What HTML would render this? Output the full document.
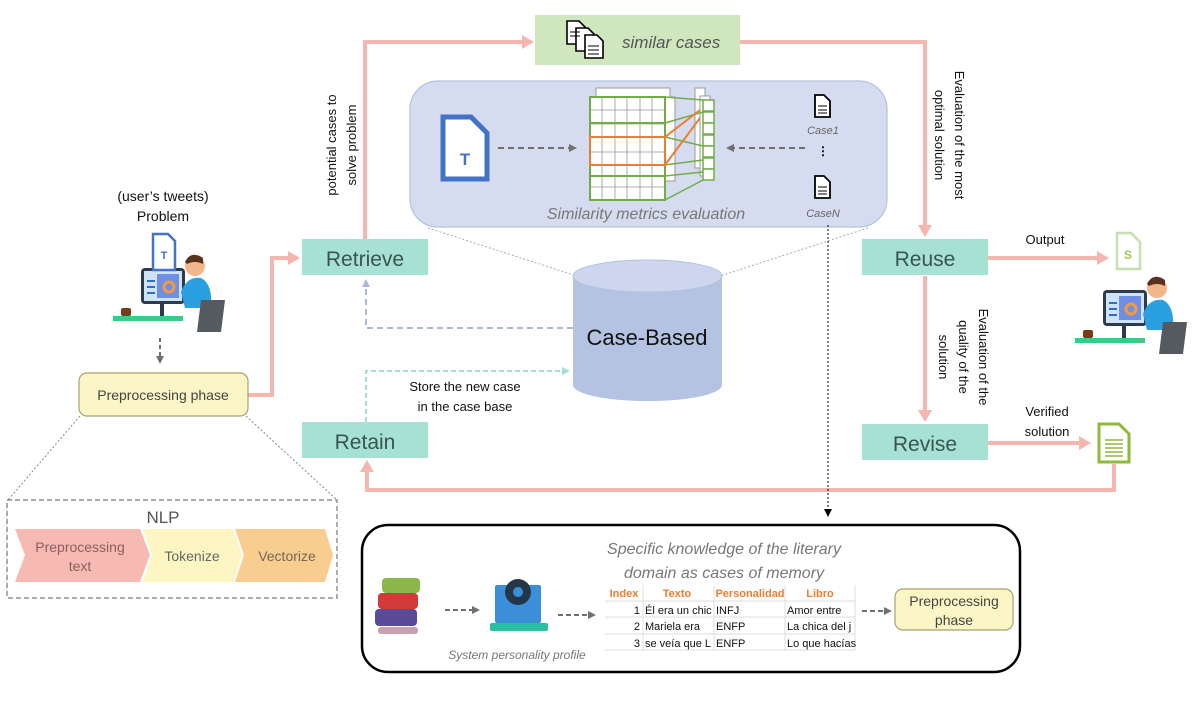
<!DOCTYPE html>
<html><head><meta charset="utf-8"><style>
html,body{margin:0;padding:0;background:#fff;}
svg{display:block;font-family:"Liberation Sans",sans-serif;}
</style></head><body>
<svg width="1196" height="702" viewBox="0 0 1196 702" xmlns="http://www.w3.org/2000/svg">
<defs>
<marker id="pk" markerWidth="12" markerHeight="14" refX="9" refY="7" orient="auto" markerUnits="userSpaceOnUse"><path d="M0,0 L12,7 L0,14 z" fill="#f4b6ae"/></marker>
<marker id="gy" markerWidth="8" markerHeight="8" refX="6" refY="4" orient="auto" markerUnits="userSpaceOnUse"><path d="M0,0 L8,4 L0,8 z" fill="#707070"/></marker>
<marker id="bl" markerWidth="8" markerHeight="8" refX="6" refY="4" orient="auto" markerUnits="userSpaceOnUse"><path d="M0,0 L8,4 L0,8 z" fill="#aab8dc"/></marker>
<marker id="tl" markerWidth="8" markerHeight="8" refX="6" refY="4" orient="auto" markerUnits="userSpaceOnUse"><path d="M0,0 L8,4 L0,8 z" fill="#9fe0d0"/></marker>
<marker id="bk" markerWidth="8" markerHeight="8" refX="6" refY="4" orient="auto" markerUnits="userSpaceOnUse"><path d="M0,0 L8,4 L0,8 z" fill="#000"/></marker>
<g id="user">
<rect x="0" y="68" width="70" height="5" fill="#3ec98a"/>
<rect x="28" y="20" width="44" height="36" rx="4" fill="#2d3b4e"/>
<rect x="31" y="23" width="38" height="30" fill="#cfe3f5"/>
<rect x="44" y="26" width="22" height="24" fill="#6f8fe6"/>
<circle cx="56" cy="39" r="5" fill="none" stroke="#f59a3b" stroke-width="3"/>
<rect x="34" y="32" width="8" height="2" fill="#2d6fd0"/><rect x="34" y="38" width="8" height="2" fill="#2d6fd0"/><rect x="34" y="44" width="8" height="2" fill="#2d6fd0"/>
<rect x="47" y="56" width="4" height="12" fill="#2d3b4e"/>
<circle cx="82" cy="18" r="10" fill="#f3b58a"/>
<path d="M72,14 Q78,2 90,10 L90,16 Q82,12 74,16 z" fill="#5a3320"/>
<path d="M68,44 Q74,28 88,30 Q100,36 98,60 L72,60 z" fill="#2aa0e0"/>
<path d="M88,52 L112,52 L108,84 L84,84 z" fill="#555a60"/>
<rect x="8" y="60" width="10" height="8" rx="2" fill="#7a3b1a"/>
</g>
</defs>

<polyline points="365,240 365,42 531,42" fill="none" stroke="#f4b6ae" stroke-width="4" marker-end="url(#pk)"/>
<polyline points="740,42 925,42 925,234" fill="none" stroke="#f4b6ae" stroke-width="4" marker-end="url(#pk)"/>
<polyline points="248,395 272,395 272,258 297,258" fill="none" stroke="#f4b6ae" stroke-width="4" marker-end="url(#pk)"/>
<line x1="988" y1="258" x2="1106" y2="258" stroke="#f4b6ae" stroke-width="4" marker-end="url(#pk)"/>
<line x1="925" y1="276" x2="925" y2="419" stroke="#f4b6ae" stroke-width="4" marker-end="url(#pk)"/>
<line x1="988" y1="443" x2="1088" y2="443" stroke="#f4b6ae" stroke-width="4" marker-end="url(#pk)"/>
<polyline points="1114,464 1114,490 367,490 367,463" fill="none" stroke="#f4b6ae" stroke-width="4" marker-end="url(#pk)"/>

<rect x="535" y="15" width="205" height="50" fill="#cfe6bf"/>
<g fill="#fff" stroke="#000" stroke-width="1.6">
<path d="M567,21 h12 l6,6 v17 h-18 z"/><path d="M576,28 h12 l6,6 v17 h-18 z"/><path d="M585,35 h12 l6,6 v17 h-18 z"/>
</g>
<g stroke="#000" stroke-width="1"><line x1="570" y1="32" x2="580" y2="32"/><line x1="570" y1="36" x2="580" y2="36"/><line x1="588" y1="46" x2="599" y2="46"/><line x1="588" y1="50" x2="599" y2="50"/><line x1="588" y1="54" x2="599" y2="54"/></g>
<text x="622" y="48" font-size="17" font-style="italic" fill="#555">similar cases</text>

<rect x="410" y="81" width="477" height="146" rx="28" fill="#d6dcef" stroke="#b5c2e0" stroke-width="1.2"/>
<path d="M443,117 h28 l16,16 v46 h-44 z" fill="#fff" stroke="#4472c4" stroke-width="5"/>
<text x="465" y="165" font-size="17" font-weight="bold" fill="#4472c4" text-anchor="middle">T</text>
<line x1="498" y1="148" x2="575" y2="148" stroke="#707070" stroke-width="2" stroke-dasharray="6,4" marker-end="url(#gy)"/>
<line x1="805" y1="148" x2="728" y2="148" stroke="#707070" stroke-width="2" stroke-dasharray="6,4" marker-end="url(#gy)"/>
<g stroke="#999" fill="#fff" stroke-width="1">
<rect x="596" y="88" width="74" height="10"/>
<rect x="665" y="97" width="10" height="84"/>
<rect x="695" y="88" width="10" height="80"/><rect x="700" y="96" width="10" height="80"/>
</g>
<rect x="590" y="97" width="75" height="103" fill="#fff" stroke="#70ad47" stroke-width="2"/>
<g stroke="#999" stroke-width="0.8">
<line x1="602" y1="97" x2="602" y2="200"/><line x1="615" y1="97" x2="615" y2="200"/><line x1="627" y1="97" x2="627" y2="200"/><line x1="640" y1="97" x2="640" y2="200"/><line x1="652" y1="97" x2="652" y2="200"/>
<line x1="590" y1="110" x2="665" y2="110"/><line x1="590" y1="124" x2="665" y2="124"/><line x1="590" y1="152" x2="665" y2="152"/><line x1="590" y1="165" x2="665" y2="165"/><line x1="590" y1="187" x2="665" y2="187"/>
</g>
<rect x="590" y="97" width="75" height="26" fill="none" stroke="#70ad47" stroke-width="2"/>
<rect x="590" y="176" width="75" height="24" fill="none" stroke="#70ad47" stroke-width="2"/>
<rect x="590" y="137" width="75" height="28" fill="none" stroke="#ed7d31" stroke-width="2"/>
<g fill="#fff" stroke="#70ad47" stroke-width="1.5">
<rect x="703" y="100" width="11" height="11"/><rect x="703" y="112" width="11" height="11"/><rect x="703" y="123" width="11" height="11"/><rect x="703" y="135" width="11" height="11"/><rect x="703" y="146" width="11" height="11"/><rect x="703" y="158" width="11" height="11"/><rect x="703" y="169" width="11" height="11"/>
</g>
<g stroke="#70ad47" stroke-width="1.5" fill="none">
<line x1="665" y1="97" x2="703" y2="100"/><line x1="665" y1="123" x2="703" y2="112"/><line x1="665" y1="137" x2="703" y2="146"/><line x1="665" y1="165" x2="703" y2="160"/><line x1="665" y1="176" x2="703" y2="172"/><line x1="665" y1="200" x2="703" y2="180"/>
</g>
<g stroke="#ed7d31" stroke-width="2"><line x1="665" y1="137" x2="700" y2="110"/><line x1="665" y1="165" x2="700" y2="118"/></g>
<g fill="#fff" stroke="#000" stroke-width="1.8">
<path d="M815,95 h9 l6,6 v16 h-15 z"/><path d="M815,176 h9 l6,6 v16 h-15 z"/>
</g>
<g stroke="#000" stroke-width="1"><line x1="818" y1="106" x2="827" y2="106"/><line x1="818" y1="110" x2="827" y2="110"/><line x1="818" y1="113" x2="827" y2="113"/><line x1="818" y1="187" x2="827" y2="187"/><line x1="818" y1="191" x2="827" y2="191"/><line x1="818" y1="194" x2="827" y2="194"/></g>
<text x="823" y="134" font-size="11" font-style="italic" fill="#666" text-anchor="middle">Case1</text>
<text x="823" y="155" font-size="12" fill="#000" text-anchor="middle" font-weight="bold">⋮</text>
<text x="823" y="217" font-size="11" font-style="italic" fill="#666" text-anchor="middle">CaseN</text>
<text x="646" y="219" font-size="16" font-style="italic" fill="#777" text-anchor="middle">Similarity metrics evaluation</text>

<line x1="428" y1="228" x2="577" y2="276" stroke="#aaa" stroke-width="1" stroke-dasharray="2,2"/>
<line x1="868" y1="228" x2="720" y2="276" stroke="#aaa" stroke-width="1" stroke-dasharray="2,2"/>

<path d="M573,276 v109 a74,16 0 0 0 149,0 v-109" fill="#b4c3e2"/>
<ellipse cx="647.5" cy="276" rx="74.5" ry="16" fill="#cdd6ee" stroke="#b4c3e2"/>
<text x="647" y="345" font-size="22" fill="#111" text-anchor="middle">Case-Based</text>

<polyline points="573,328 366,328 366,281" fill="none" stroke="#aab8dc" stroke-width="2" stroke-dasharray="6,4" marker-end="url(#bl)"/>
<polyline points="366,422 366,371 568,371" fill="none" stroke="#9fe0d0" stroke-width="2" stroke-dasharray="5,3" marker-end="url(#tl)"/>
<text x="465" y="391" font-size="13" fill="#111" text-anchor="middle">Store the new case</text>
<text x="465" y="411" font-size="13" fill="#111" text-anchor="middle">in the case base</text>

<rect x="302" y="239" width="126" height="36" fill="#a6e1d3"/>
<text x="365" y="266" font-size="21" fill="#3a5550" text-anchor="middle">Retrieve</text>
<rect x="302" y="422" width="126" height="36" fill="#a6e1d3"/>
<text x="365" y="449" font-size="21" fill="#3a5550" text-anchor="middle">Retain</text>
<rect x="862" y="239" width="126" height="36" fill="#a6e1d3"/>
<text x="925" y="266" font-size="21" fill="#3a5550" text-anchor="middle">Reuse</text>
<rect x="862" y="424" width="126" height="36" fill="#a6e1d3"/>
<text x="925" y="451" font-size="21" fill="#3a5550" text-anchor="middle">Revise</text>

<text transform="translate(336,145) rotate(-90)" font-size="13" fill="#111" text-anchor="middle">potential  cases to</text>
<text transform="translate(356,145) rotate(-90)" font-size="13" fill="#111" text-anchor="middle">solve problem</text>
<text transform="translate(955,135) rotate(90)" font-size="13" fill="#111" text-anchor="middle">Evaluation of the most</text>
<text transform="translate(935,135) rotate(90)" font-size="13" fill="#111" text-anchor="middle">optimal solution</text>
<text transform="translate(979,357) rotate(90)" font-size="13" fill="#111" text-anchor="middle">Evaluation of the</text>
<text transform="translate(959,357) rotate(90)" font-size="13" fill="#111" text-anchor="middle">quality of the</text>
<text transform="translate(939,357) rotate(90)" font-size="13" fill="#111" text-anchor="middle">solution</text>

<text x="1045" y="244" font-size="13" fill="#111" text-anchor="middle">Output</text>
<text x="1047" y="416" font-size="13" fill="#111" text-anchor="middle">Verified</text>
<text x="1047" y="436" font-size="13" fill="#111" text-anchor="middle">solution</text>

<path d="M1117,233 h14 l9,9 v27 h-23 z" fill="#fff" stroke="#c5dfb0" stroke-width="2.5"/>
<text x="1128" y="259" font-size="12" font-weight="bold" fill="#a4c55b" text-anchor="middle">S</text>
<path d="M1099,424 h20 l10,10 v28 h-30 z" fill="#fff" stroke="#8fb93a" stroke-width="3"/>
<g stroke="#8fb93a" stroke-width="1.5"><line x1="1105" y1="440" x2="1123" y2="440"/><line x1="1105" y1="444" x2="1123" y2="444"/><line x1="1105" y1="448" x2="1123" y2="448"/><line x1="1105" y1="452" x2="1123" y2="452"/><line x1="1105" y1="456" x2="1123" y2="456"/></g>

<use href="#user" transform="translate(113,248)"/>
<use href="#user" transform="translate(1075,270)"/>

<text x="163" y="201" font-size="14" fill="#111" text-anchor="middle">(user’s tweets)</text>
<text x="163" y="221" font-size="14" fill="#111" text-anchor="middle">Problem</text>
<path d="M153,234 h15 l7,7 v29 h-22 z" fill="#fff" stroke="#4472c4" stroke-width="2.5"/>
<text x="164" y="259" font-size="11" font-weight="bold" fill="#4472c4" text-anchor="middle">T</text>
<line x1="160" y1="338" x2="160" y2="362" stroke="#707070" stroke-width="2" stroke-dasharray="4,3" marker-end="url(#gy)"/>
<rect x="79" y="373" width="169" height="43" rx="8" fill="#fcf6c6" stroke="#a8a070" stroke-width="1.2"/>
<text x="163" y="400" font-size="14" fill="#444" text-anchor="middle">Preprocessing phase</text>
<line x1="80" y1="416" x2="8" y2="500" stroke="#888" stroke-width="1" stroke-dasharray="2,2"/>
<line x1="246" y1="416" x2="337" y2="500" stroke="#888" stroke-width="1" stroke-dasharray="2,2"/>

<rect x="7" y="500" width="330" height="98" fill="none" stroke="#777" stroke-width="1.2" stroke-dasharray="5,3"/>
<text x="163" y="523" font-size="17" fill="#555" text-anchor="middle">NLP</text>
<path d="M15,529 H140 L150,555 L140,582 H15 L25,555 z" fill="#f6bab3"/>
<path d="M143,529 H233 L242,555 L233,582 H143 L152,555 z" fill="#fdf6c3"/>
<path d="M235,529 H325 L333,555 L325,582 H235 L244,555 z" fill="#f9cd90"/>
<text x="80" y="552" font-size="14" fill="#8a5e5e" text-anchor="middle">Preprocessing</text>
<text x="80" y="571" font-size="14" fill="#8a5e5e" text-anchor="middle">text</text>
<text x="192" y="561" font-size="14" fill="#666" text-anchor="middle">Tokenize</text>
<text x="287" y="561" font-size="14" fill="#776655" text-anchor="middle">Vectorize</text>

<line x1="828" y1="225" x2="828" y2="515" stroke="#000" stroke-width="1" stroke-dasharray="2,2" marker-end="url(#bk)"/>

<rect x="362" y="525" width="658" height="147" rx="26" fill="#fff" stroke="#000" stroke-width="2.5"/>
<text x="724" y="554" font-size="16" font-style="italic" fill="#777" text-anchor="middle">Specific knowledge of the literary</text>
<text x="724" y="578" font-size="16" font-style="italic" fill="#777" text-anchor="middle">domain as cases of memory</text>
<rect x="382" y="578" width="38" height="15" rx="4" fill="#8cb84a"/>
<rect x="378" y="593" width="40" height="16" rx="4" fill="#d23a3a"/>
<rect x="375" y="609" width="42" height="17" rx="4" fill="#5a4a9a"/>
<rect x="378" y="627" width="40" height="7" rx="3" fill="#c8a0b0"/>
<line x1="445" y1="610" x2="478" y2="610" stroke="#707070" stroke-width="2" stroke-dasharray="5,3" marker-end="url(#gy)"/>
<rect x="495" y="585" width="46" height="38" rx="2" fill="#3a8fd8"/>
<rect x="490" y="623" width="58" height="8" rx="2" fill="#2bbfa0"/>
<circle cx="518" cy="592" r="13" fill="#243748"/><circle cx="518" cy="592" r="5" fill="#3a8fd8"/>
<line x1="558" y1="615" x2="594" y2="615" stroke="#707070" stroke-width="2" stroke-dasharray="5,3" marker-end="url(#gy)"/>
<text x="517" y="659" font-size="12" font-style="italic" fill="#777" text-anchor="middle">System personality profile</text>
<g stroke="#ddd" stroke-width="1">
<line x1="605" y1="601" x2="855" y2="601"/><line x1="605" y1="617" x2="855" y2="617"/><line x1="605" y1="634" x2="855" y2="634"/><line x1="605" y1="650" x2="855" y2="650"/>
<line x1="643" y1="585" x2="643" y2="650"/><line x1="714" y1="585" x2="714" y2="650"/><line x1="785" y1="585" x2="785" y2="650"/><line x1="855" y1="585" x2="855" y2="650"/>
</g>
<g font-size="11" fill="#ed7d31" font-weight="bold" text-anchor="middle">
<text x="624" y="597">Index</text><text x="677" y="597">Texto</text><text x="750" y="597">Personalidad</text><text x="820" y="597">Libro</text>
</g>
<g font-size="11" fill="#111">
<text x="640" y="614" text-anchor="end">1</text><text x="645" y="614">Él era un chic</text><text x="716" y="614">INFJ</text><text x="787" y="614">Amor entre</text>
<text x="640" y="630" text-anchor="end">2</text><text x="645" y="630">Mariela era</text><text x="716" y="630">ENFP</text><text x="787" y="630">La chica del j</text>
<text x="640" y="647" text-anchor="end">3</text><text x="645" y="647">se veía que L</text><text x="716" y="647">ENFP</text><text x="787" y="647">Lo que hacías</text>
</g>
<line x1="862" y1="611" x2="890" y2="611" stroke="#707070" stroke-width="2" stroke-dasharray="5,3" marker-end="url(#gy)"/>
<rect x="895" y="589" width="118" height="41" rx="8" fill="#fcf6c6" stroke="#a8a070" stroke-width="1.2"/>
<text x="954" y="606" font-size="14" fill="#444" text-anchor="middle">Preprocessing</text>
<text x="954" y="625" font-size="14" fill="#444" text-anchor="middle">phase</text>
</svg>
</body></html>
